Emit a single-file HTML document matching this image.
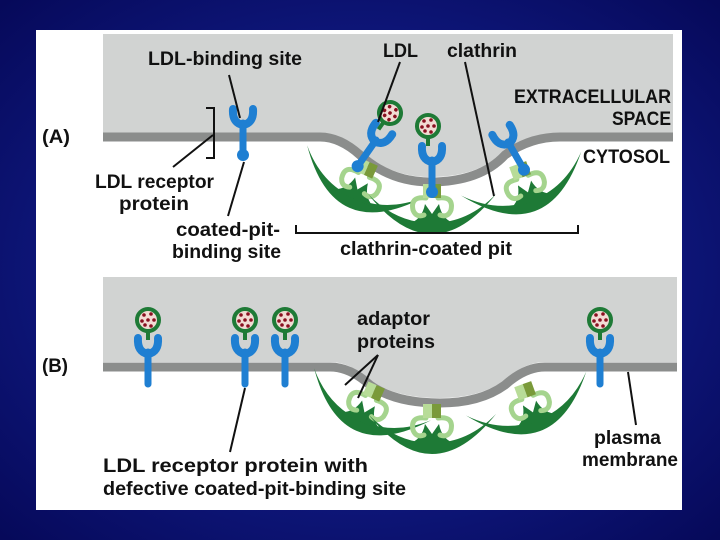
<!DOCTYPE html>
<html><head><meta charset="utf-8"><style>
html,body{margin:0;padding:0;width:720px;height:540px;overflow:hidden;background:#0a1280;}
svg{display:block}
text{font-family:"Liberation Sans",sans-serif;font-weight:bold;font-size:19px;fill:#111}
</style></head><body>
<svg width="720" height="540" viewBox="0 0 720 540">
<defs>
<radialGradient id="bg" cx="50%" cy="50%" r="70%"><stop offset="0" stop-color="#1a2aa8"/><stop offset="1" stop-color="#06095a"/></radialGradient>
<g id="rec"><path d="M-10,-14 Q-11,0 0,2 Q11,0 10,-14" fill="none" stroke="#1f7fd2" stroke-width="8" stroke-linecap="round"/><line x1="0" y1="0" x2="0" y2="32" stroke="#1f7fd2" stroke-width="7" stroke-linecap="round"/></g>
<g id="recb"><use href="#rec"/><circle cx="0" cy="32" r="6" fill="#1f7fd2"/></g>
<g id="ldl"><line x1="0" y1="8" x2="0" y2="20" stroke="#1e7a36" stroke-width="4"/><circle r="11" fill="#f2dcd4" stroke="#1e7a36" stroke-width="4"/>
<g fill="#8a1020"><circle cx="-4" cy="-5" r="1.8"/><circle cx="3" cy="-6" r="1.8"/><circle cx="-6" cy="1" r="1.8"/><circle cx="0" cy="0" r="1.8"/><circle cx="6" cy="0" r="1.8"/><circle cx="-3" cy="5" r="1.8"/><circle cx="3" cy="6" r="1.8"/></g></g>
<g id="cla">
<path d="M-64,-26 Q-32,14 0,14 Q32,14 64,-26 Q36,3 0,3 Q-36,3 -64,-26Z" fill="#1e7a36"/>
<path d="M-24,4 Q-10,0 -7,-16 L0,-6 L7,-16 Q10,0 24,4Z" fill="#1e7a36"/>
<path d="M-6,-22 Q-22,-24 -19,-10 Q-16,-2 -8,-5 M6,-22 Q22,-24 19,-10 Q16,-2 8,-5" fill="none" stroke="#a5d48e" stroke-width="5" stroke-linecap="round"/>
<rect x="-9" y="-36" width="9" height="14" fill="#b8dc98"/><rect x="0" y="-36" width="9" height="14" fill="#7a9a3a"/></g>
</defs>
<rect width="720" height="540" fill="url(#bg)"/>
<rect x="36" y="30" width="646" height="480" fill="#fff"/>
<!-- Panel A -->
<path d="M103,34 H673 V133 H560 Q530,133 505,150 Q480,177 430,177 Q390,177 360,150 Q340,133 320,133 H103Z" fill="#d1d3d2"/>
<path d="M103,137 H320 Q340,137 360,155 Q390,182 430,182 Q480,182 505,155 Q530,137 560,137 H673" fill="none" stroke="#8b8d8c" stroke-width="9"/>
<use href="#cla" transform="translate(355,195) rotate(24)"/>
<use href="#cla" transform="translate(432,220)"/>
<use href="#cla" transform="translate(530,198) rotate(-20)"/>
<use href="#recb" transform="translate(243,123)"/>
<use href="#recb" transform="translate(376,140) rotate(35)"/>
<use href="#recb" transform="translate(432,160)"/>
<use href="#recb" transform="translate(508,142) rotate(-30)"/>
<use href="#ldl" transform="translate(390,113) rotate(35)"/>
<use href="#ldl" transform="translate(428,126)"/>
<!-- Panel B -->
<path d="M103,277 H677 V362 H545 Q525,362 505,380 Q480,398 440,398 Q395,398 370,380 Q350,362 330,362 H103Z" fill="#d1d3d2"/>
<path d="M103,367 H330 Q350,367 370,385 Q395,403 440,403 Q480,403 505,385 Q525,367 545,367 H677" fill="none" stroke="#8b8d8c" stroke-width="9"/>
<use href="#cla" transform="translate(362,418) rotate(24)"/>
<use href="#cla" transform="translate(432,440)"/>
<use href="#cla" transform="translate(535,418) rotate(-20)"/>
<use href="#rec" transform="translate(148,352)"/><use href="#ldl" transform="translate(148,320)"/>
<use href="#rec" transform="translate(245,352)"/><use href="#ldl" transform="translate(245,320)"/>
<use href="#rec" transform="translate(285,352)"/><use href="#ldl" transform="translate(285,320)"/>
<use href="#rec" transform="translate(600,352)"/><use href="#ldl" transform="translate(600,320)"/>
<!-- lines -->
<g stroke="#111" stroke-width="2" fill="none">
<path d="M206,108 H214 V158 H206"/>
<line x1="229" y1="75" x2="240" y2="118"/>
<line x1="213" y1="135" x2="173" y2="167"/>
<line x1="244" y1="162" x2="228" y2="216"/>
<line x1="400" y1="62" x2="378" y2="122"/>
<line x1="465" y1="62" x2="494" y2="196"/>
<path d="M296,225 V233 H578 V225"/>
<line x1="378" y1="355" x2="345" y2="385"/>
<line x1="378" y1="355" x2="358" y2="398"/>
<line x1="245" y1="388" x2="230" y2="452"/>
<line x1="628" y1="372" x2="636" y2="425"/>
</g>
<g lengthAdjust="spacingAndGlyphs">
<text x="42" y="143" textLength="28" lengthAdjust="spacingAndGlyphs">(A)</text>
<text x="42" y="372" textLength="26" lengthAdjust="spacingAndGlyphs">(B)</text>
<text x="148" y="65" textLength="154" lengthAdjust="spacingAndGlyphs">LDL-binding site</text>
<text x="383" y="57" textLength="35" lengthAdjust="spacingAndGlyphs">LDL</text>
<text x="447" y="57" textLength="70" lengthAdjust="spacingAndGlyphs">clathrin</text>
<text x="514" y="103" textLength="157" lengthAdjust="spacingAndGlyphs">EXTRACELLULAR</text>
<text x="612" y="125" textLength="59" lengthAdjust="spacingAndGlyphs">SPACE</text>
<text x="583" y="163" textLength="87" lengthAdjust="spacingAndGlyphs">CYTOSOL</text>
<text x="95" y="188" textLength="119" lengthAdjust="spacingAndGlyphs">LDL receptor</text>
<text x="119" y="210" textLength="70" lengthAdjust="spacingAndGlyphs">protein</text>
<text x="176" y="236" textLength="104" lengthAdjust="spacingAndGlyphs">coated-pit-</text>
<text x="172" y="258" textLength="109" lengthAdjust="spacingAndGlyphs">binding site</text>
<text x="340" y="255" textLength="172" lengthAdjust="spacingAndGlyphs">clathrin-coated pit</text>
<text x="357" y="325" textLength="73" lengthAdjust="spacingAndGlyphs">adaptor</text>
<text x="357" y="348" textLength="78" lengthAdjust="spacingAndGlyphs">proteins</text>
<text x="594" y="444" textLength="67" lengthAdjust="spacingAndGlyphs">plasma</text>
<text x="582" y="466" textLength="96" lengthAdjust="spacingAndGlyphs">membrane</text>
<text x="103" y="472" textLength="265" lengthAdjust="spacingAndGlyphs">LDL receptor protein with</text>
<text x="103" y="495" textLength="303" lengthAdjust="spacingAndGlyphs">defective coated-pit-binding site</text>
</g>
</svg>
</body></html>
